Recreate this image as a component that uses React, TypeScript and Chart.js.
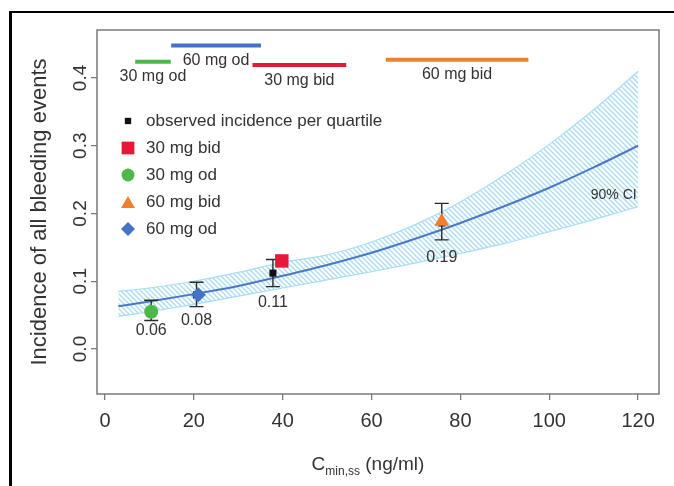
import React, { useEffect, useRef } from 'react';
import { Chart, registerables } from 'chart.js';
import { drawPoint } from 'chart.js/helpers';

Chart.register(...registerables);

// ---- data ----
const fitX = [3, 10, 20, 30, 40, 50, 60, 70, 80, 90, 100, 110, 120];
const fitY = [0.063, 0.070, 0.081, 0.093, 0.108, 0.124, 0.142, 0.163, 0.186, 0.211, 0.238, 0.268, 0.300];
const ciLower = [0.048, 0.055, 0.066, 0.078, 0.090, 0.102, 0.114, 0.127, 0.141, 0.156, 0.173, 0.191, 0.210];
const ciUpper = [0.085, 0.090, 0.100, 0.113, 0.128, 0.139, 0.158, 0.184, 0.217, 0.257, 0.302, 0.353, 0.410];

const quartileX = [10.4, 20.6, 37.8, 75.8];
const quartileY = [0.056, 0.080, 0.112, 0.186];
const quartileLow = [0.042, 0.0625, 0.092, 0.161];
const quartileHigh = [0.072, 0.0985, 0.132, 0.215];
const quartileLabels = ['0.06', '0.08', '0.11', '0.19'];

const doseNames = ['30 mg bid', '30 mg od', '60 mg bid', '60 mg od'];
const doseX = [39.8, 10.4, 75.8, 21.0];
const doseY = [0.130, 0.055, 0.188, 0.080];

const rangeNames = ['30 mg od', '60 mg od', '30 mg bid', '60 mg bid'];
const rangeStart = [6.8, 14.9, 33.2, 63.2];
const rangeEnd = [14.8, 35.1, 54.3, 95.3];
const rangeLevel = [0.424, 0.448, 0.419, 0.427];

const xTicks = [0, 20, 40, 60, 80, 100, 120];
const yTicks = [0.0, 0.1, 0.2, 0.3, 0.4];

// ---- styles ----
const FONT = '"Liberation Sans", Arial, Helvetica, sans-serif';
const TEXT = '#333333';
const doseColors = ['#e8173a', '#4cb848', '#f07f2e', '#4472c4'];
const doseStyles = ['rect', 'circle', 'triangle', 'rectRot'];
const doseRadius = [9.5, 7, 8.5, 7.5];
const rangeColors = ['#4cb848', '#4472c4', '#e8173a', '#f07f2e'];
const labelOffsets = [10, 14, 16, 18];

function makePattern(ctx: CanvasRenderingContext2D) {
  const s = 5;
  const c = document.createElement('canvas');
  c.width = s;
  c.height = s;
  const p = c.getContext('2d')!;
  p.strokeStyle = '#a9dbf4';
  p.lineWidth = 1.3;
  p.beginPath();
  p.moveTo(-1, -1); p.lineTo(s + 1, s + 1);
  p.moveTo(-1, s - 1); p.lineTo(1, s + 1);
  p.moveTo(s - 1, -1); p.lineTo(s + 1, 1);
  p.stroke();
  return ctx.createPattern(c, 'repeat')!;
}

const overlay = {
  id: 'overlay',
  beforeDraw(chart: any) {
    const c = chart.ctx;
    c.save();
    c.fillStyle = '#ffffff';
    c.fillRect(0, 0, chart.width, chart.height);
    c.fillStyle = '#000000';
    c.fillRect(9, 11, chart.width - 9, 2);
    c.fillRect(9, 11, 3, chart.height - 11);
    c.restore();
  },
  afterDatasetDraw(chart: any, args: any) {
    if (chart.data.datasets[args.index].label !== 'fit') return;
    const c = chart.ctx;
    const xs = chart.scales.x;
    const ys = chart.scales.y;
    c.save();
    c.strokeStyle = '#2a2a2a';
    c.lineWidth = 1.4;
    for (let i = 0; i < quartileX.length; i++) {
      const px = xs.getPixelForValue(quartileX[i]);
      const t = ys.getPixelForValue(quartileHigh[i]);
      const b = ys.getPixelForValue(quartileLow[i]);
      c.beginPath();
      c.moveTo(px, t); c.lineTo(px, b);
      c.moveTo(px - 7, t); c.lineTo(px + 7, t);
      c.moveTo(px - 7, b); c.lineTo(px + 7, b);
      c.stroke();
    }
    c.restore();
  },
  afterDatasetsDraw(chart: any) {
    const c = chart.ctx;
    const xs = chart.scales.x;
    const ys = chart.scales.y;
    const a = chart.chartArea;
    c.save();
    // box
    c.strokeStyle = '#7a7a7a';
    c.lineWidth = 1.5;
    c.strokeRect(a.left, a.top, a.right - a.left, a.bottom - a.top);

    c.fillStyle = TEXT;
    // y tick labels
    c.font = `19px ${FONT}`;
    c.textAlign = 'center';
    c.textBaseline = 'middle';
    for (const v of yTicks) {
      const py = ys.getPixelForValue(v);
      c.save();
      c.translate(81, py);
      c.rotate(-Math.PI / 2);
      c.fillText(v.toFixed(1), 0, 0);
      c.restore();
    }
    // x tick labels
    c.font = `20px ${FONT}`;
    for (const v of xTicks) {
      c.fillText(String(v), xs.getPixelForValue(v), 421);
    }
    // y title
    c.save();
    c.font = `22px ${FONT}`;
    c.translate(40, (a.top + a.bottom) / 2);
    c.rotate(-Math.PI / 2);
    c.fillText('Incidence of all bleeding events', 0, 0);
    c.restore();
    // x title with subscript
    c.textAlign = 'left';
    c.textBaseline = 'alphabetic';
    const big = `19px ${FONT}`;
    const small = `12px ${FONT}`;
    c.font = big;
    const wC = c.measureText('C').width;
    const wP = c.measureText(' (ng/ml)').width;
    c.font = small;
    const wS = c.measureText('min,ss').width;
    const total = wC + wS + wP;
    let x0 = 368 - total / 2;
    const base = 470;
    c.font = big;
    c.fillText('C', x0, base);
    x0 += wC;
    c.font = small;
    c.fillText('min,ss', x0, base + 5);
    x0 += wS;
    c.font = big;
    c.fillText(' (ng/ml)', x0, base);

    // dose range labels
    c.textAlign = 'center';
    c.textBaseline = 'middle';
    c.font = `16px ${FONT}`;
    for (let i = 0; i < rangeNames.length; i++) {
      const cx = xs.getPixelForValue((rangeStart[i] + rangeEnd[i]) / 2);
      const cy = ys.getPixelForValue(rangeLevel[i]) + 15;
      c.fillText(rangeNames[i], cx, cy);
    }
    // quartile value labels
    for (let i = 0; i < quartileLabels.length; i++) {
      const cx = xs.getPixelForValue(quartileX[i]);
      const cy = ys.getPixelForValue(quartileLow[i]) + labelOffsets[i];
      c.fillText(quartileLabels[i], cx, cy);
    }
    // 90% CI
    c.font = `14px ${FONT}`;
    c.fillText('90% CI', xs.getPixelForValue(114.5), ys.getPixelForValue(0.227));

    // legend
    const legendItems = [
      { text: 'observed incidence per quartile', style: 'rect', r: 4.5, color: '#111111' },
      { text: doseNames[0], style: doseStyles[0], r: 9, color: doseColors[0] },
      { text: doseNames[1], style: doseStyles[1], r: 6.5, color: doseColors[1] },
      { text: doseNames[2], style: doseStyles[2], r: 8, color: doseColors[2] },
      { text: doseNames[3], style: doseStyles[3], r: 7, color: doseColors[3] },
    ];
    const rows = [121, 148, 175, 202, 229];
    c.font = `17px ${FONT}`;
    c.textAlign = 'left';
    legendItems.forEach((it, i) => {
      c.fillStyle = it.color;
      c.strokeStyle = it.color;
      drawPoint(c, { pointStyle: it.style as any, radius: it.r, rotation: 0, borderWidth: 0 } as any, 128, rows[i] + (it.style === 'triangle' ? 2 : 0));
      c.fillStyle = TEXT;
      c.fillText(it.text, 146, rows[i]);
    });
    c.restore();
  },
};

export default function App() {
  const ref = useRef<HTMLCanvasElement>(null);
  useEffect(() => {
    const canvas = ref.current!;
    const ctx = canvas.getContext('2d')!;
    const pattern = makePattern(ctx);
    const pts = (xs: number[], ys: number[]) => xs.map((x, i) => ({ x, y: ys[i] }));

    const datasets: any[] = [
      ...doseNames.map((n, i) => ({
        label: n,
        data: [{ x: doseX[i], y: doseY[i] }],
        showLine: false,
        pointStyle: doseStyles[i],
        pointRadius: doseRadius[i],
        backgroundColor: doseColors[i],
        borderColor: doseColors[i],
        borderWidth: 0,
        order: 1,
      })),
      {
        label: 'observed incidence per quartile',
        data: pts(quartileX, quartileY),
        showLine: false,
        pointStyle: 'rect',
        pointRadius: 5,
        backgroundColor: '#111111',
        borderColor: '#111111',
        borderWidth: 0,
        order: 2,
      },
      ...rangeNames.map((n, i) => ({
        label: 'range ' + n,
        data: [{ x: rangeStart[i], y: rangeLevel[i] }, { x: rangeEnd[i], y: rangeLevel[i] }],
        borderColor: rangeColors[i],
        borderWidth: 4,
        pointRadius: 0,
        fill: false,
        order: 3,
      })),
      {
        label: 'fit',
        data: pts(fitX, fitY),
        borderColor: '#4a78c2',
        borderWidth: 2,
        pointRadius: 0,
        fill: false,
        cubicInterpolationMode: 'monotone',
        order: 4,
      },
      {
        label: 'ciUpper',
        data: pts(fitX, ciUpper),
        borderColor: '#a8dcf5',
        borderWidth: 1.2,
        pointRadius: 0,
        fill: '+1',
        backgroundColor: pattern,
        cubicInterpolationMode: 'monotone',
        order: 5,
      },
      {
        label: 'ciLower',
        data: pts(fitX, ciLower),
        borderColor: '#a8dcf5',
        borderWidth: 1.2,
        pointRadius: 0,
        fill: false,
        cubicInterpolationMode: 'monotone',
        order: 6,
      },
    ];

    const gridCfg = {
      display: true,
      drawOnChartArea: false,
      drawTicks: true,
      tickLength: 6,
      color: '#7a7a7a',
      lineWidth: 1.3,
    };

    const chart = new Chart(ctx, {
      type: 'line',
      data: { datasets },
      options: {
        responsive: false,
        animation: false,
        devicePixelRatio: 1,
        layout: { padding: { top: 30, right: 15, left: 0, bottom: 0 } },
        plugins: {
          legend: { display: false },
          tooltip: { enabled: false },
          filler: { drawTime: 'beforeDatasetsDraw' },
        } as any,
        scales: {
          x: {
            type: 'linear',
            min: -1.8,
            max: 124.7,
            afterBuildTicks: (s: any) => { s.ticks = xTicks.map((v) => ({ value: v })); },
            afterFit: (s: any) => { s.height = 92; },
            ticks: { display: false },
            grid: gridCfg,
            border: { display: false },
          },
          y: {
            type: 'linear',
            min: -0.0664,
            max: 0.4708,
            afterBuildTicks: (s: any) => { s.ticks = yTicks.map((v) => ({ value: v })); },
            afterFit: (s: any) => { s.width = 97; },
            ticks: { display: false },
            grid: gridCfg,
            border: { display: false },
          },
        } as any,
      },
      plugins: [overlay as any],
    });
    return () => chart.destroy();
  }, []);

  return (
    <canvas
      ref={ref}
      width={674}
      height={486}
      style={{ position: 'absolute', left: 0, top: 0, width: 674, height: 486 }}
    />
  );
}
